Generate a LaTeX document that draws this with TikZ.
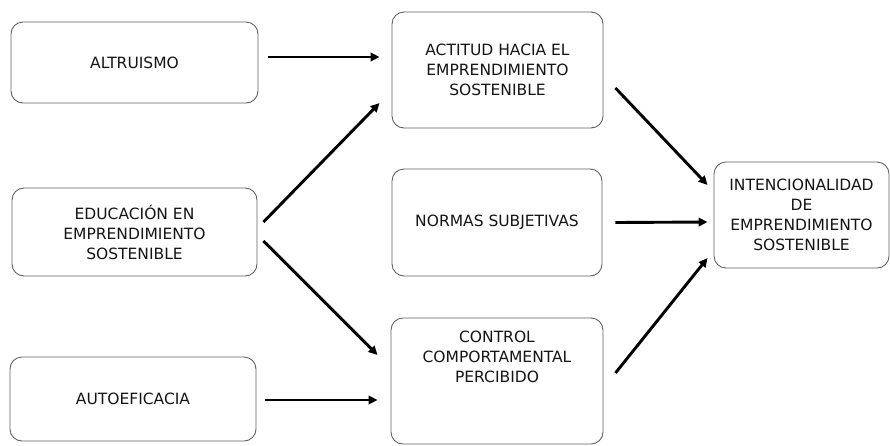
\documentclass[tikz,border=0pt]{standalone}
\usepackage{fontspec}
\setmainfont{DejaVu Sans}
\usetikzlibrary{calc,arrows.meta}
\begin{document}
\begin{tikzpicture}[x=1pt,y=-1pt,
  box/.style={draw=black!62, line width=0.9pt, rounded corners=12pt, align=center,
    inner sep=0pt, text=black!92, font=\fontsize{15.5}{20}\selectfont},
  txt/.style={align=center, inner sep=0pt, text=black!92, font=\fontsize{15.5}{20}\selectfont},
  arr/.style={line width=2.9pt, -{Triangle[length=9pt,width=8.5pt]}}]
\useasboundingbox (0,0) rectangle (890,445);
\node[box, minimum width=247pt, minimum height=81pt] (altr) at (134.5,62.5) {ALTRUISMO};
\node[box, minimum width=245pt, minimum height=88pt] (edu) at (134.5,232) {EDUCACIÓN EN\\EMPRENDIMIENTO\\SOSTENIBLE};
\node[box, minimum width=246pt, minimum height=84pt] (auto) at (133,399) {AUTOEFICACIA};
\node[box, minimum width=211pt, minimum height=116pt] (act) at (497.5,70) {ACTITUD HACIA EL\\EMPRENDIMIENTO\\SOSTENIBLE};
\node[box, minimum width=210pt, minimum height=107pt] (norm) at (497,222.5) {NORMAS SUBJETIVAS};
\node[box, minimum width=212pt, minimum height=126pt] (ctrl) at (497,381) {};
\node[txt] (ctrltxt) at (497,357) {CONTROL\\COMPORTAMENTAL\\PERCIBIDO};
\node[box, minimum width=175pt, minimum height=106pt] (int) at (801.5,215) {INTENCIONALIDAD\\DE\\EMPRENDIMIENTO\\SOSTENIBLE};
\draw[arr] ($(altr.east)+(10,-5.5)$) -- ($(act.west)+(-12,-13)$);
\draw[arr] ($(edu.east)+(6,-10)$) -- ($(act.west)+(-12,33)$);
\draw[arr] ($(edu.east)+(6,9)$) -- ($(ctrl.west)+(-13,-26)$);
\draw[arr] ($(auto.east)+(9,1)$) -- ($(ctrl.west)+(-13,19)$);
\draw[arr] ($(act.east)+(12,18)$) -- ($(int.west)+(-6,-30)$);
\draw[arr] ($(norm.east)+(13,0)$) -- ($(int.west)+(-6,7)$);
\draw[arr] ($(ctrl.east)+(12,-8)$) -- ($(int.west)+(-6,43)$);
\end{tikzpicture}
\end{document}
